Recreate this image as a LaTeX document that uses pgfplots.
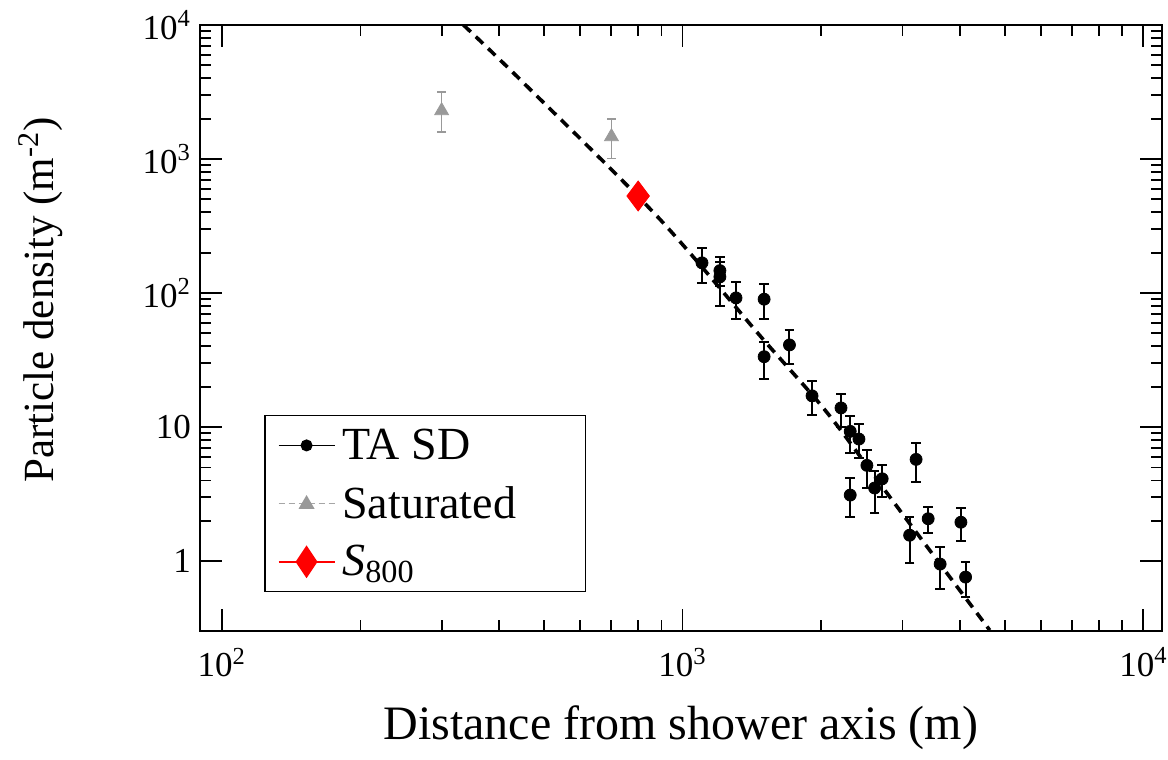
\documentclass[border=0pt]{standalone}
\usepackage{pgfplots}
\pgfplotsset{compat=1.18}
\usepackage{fontspec}
\setmainfont{Liberation Serif}
\pgfplotstableread{
x y ep em
1102 168 48 50
1205 147 40 35
1205 132 38 52
1306 92 28 28
1503 90 26 26
1503 33.5 9.5 10.7
1706 41 12 11.6
1910 17.1 4.9 4.8
2207 13.9 3.9 3.85
2311 9.29 2.81 2.86
2414 8.14 2.36 2.30
2311 3.11 1.03 0.99
2512 5.18 1.59 1.66
2611 3.51 1.21 1.24
2711 4.11 1.09 1.09
3212 5.74 1.90 1.87
3110 1.56 0.56 0.60
3412 2.07 0.47 0.46
3622 0.95 0.32 0.33
4018 1.95 0.55 0.53
4113 0.76 0.22 0.22
}\tasd
\pgfplotstableread{
x y ep em
300 2293 882 710
701 1467 520 455
}\sat
\begin{document}
\begin{tikzpicture}
\begin{axis}[
  at={(0,0)}, anchor=south west,
  scale only axis, width=480.9pt, height=302.9pt,
  xmode=log, ymode=log,
  xmin=89.7, xmax=10965, ymin=0.302, ymax=10000,
  axis line style={line width=0.9pt},
  every tick/.style={black, line width=0.9pt},
  major tick length=11pt, minor tick length=5.5pt,
  tick align=inside,
  xtick={100,1000,10000},
  xticklabels={10\textsuperscript{2},10\textsuperscript{3},10\textsuperscript{4}},
  ytick={1,10,100,1000,10000},
  yticklabels={1,10,10\textsuperscript{2},10\textsuperscript{3},10\textsuperscript{4}},
  ticklabel style={font=\fontsize{17.5}{20}\selectfont},
  xticklabel style={yshift=-5pt},
  yticklabel style={xshift=-1pt},
  xlabel={Distance from shower axis (m)},
  ylabel={Particle density (m\textsuperscript{-2})},
  xlabel style={font=\fontsize{24}{28}\selectfont, at={(axis description cs:0.5,-0.16)}, anchor=center},
  ylabel style={font=\fontsize{21.5}{26}\selectfont, at={(axis description cs:-0.166,0.546)}, anchor=center, rotate=0},
  legend style={at={(axis description cs:0.0665,0.3564)}, anchor=north west,
    draw=black, line width=0.8pt, font=\fontsize{23}{27}\selectfont,
    inner xsep=6.5pt, inner ysep=4.5pt, row sep=8pt, column sep=1.5pt, cells={anchor=west}},
  legend cell align=left,
]
\addplot[black, line width=1.8pt, dash pattern=on 5pt off 3.5pt, smooth, forget plot] coordinates {
(334.6,10000) (445.1,3890) (882.6,370.7) (1479,47.2) (2065,12.65) (2884,2.70) (4641,0.305)};

\addplot[black, only marks, mark=*, mark size=3pt,
  legend image code/.code={
    \draw[black, line width=0.8pt] (0pt,0pt) -- (28pt,0pt);
    \fill[black] (14pt,0pt) circle (2.6pt);},
  error bars/.cd, y dir=both, y explicit,
  error bar style={line width=1pt, black},
  error mark options={rotate=90, mark size=2.4pt, line width=1pt, black},
  ]
  table[x=x, y=y, y error plus=ep, y error minus=em] {\tasd};
\addlegendentry{\makebox[113pt][l]{TA SD}}
\addplot[gray!80, only marks, mark=triangle*, mark size=4pt,
  legend image code/.code={
    \draw[gray!70, line width=0.7pt, dash pattern=on 3pt off 2pt] (0pt,0pt) -- (28pt,0pt);
    \fill[gray!80] (14pt,3.5pt) -- (17.3pt,-2.2pt) -- (10.7pt,-2.2pt) -- cycle;},
  error bars/.cd, y dir=both, y explicit,
  error bar style={line width=0.8pt, gray!80},
  error mark options={rotate=90, mark size=2.2pt, line width=0.8pt, gray!80},
  ]
  table[x=x, y=y, y error plus=ep, y error minus=em] {\sat};
\addlegendentry{\makebox[113pt][l]{Saturated}}
\addplot[red, only marks, mark=diamond*, mark size=7.5pt,
  legend image code/.code={
    \draw[red, line width=0.8pt] (0pt,0pt) -- (28pt,0pt);
    \fill[red] (14pt,7.5pt) -- (19pt,0pt) -- (14pt,-7.5pt) -- (9pt,0pt) -- cycle;},
  ] coordinates {(801,530)};
\addlegendentry{\makebox[113pt][l]{\textit{S}\textsubscript{800}}}
\end{axis}
\pgfresetboundingbox
\path[use as bounding box] (-100pt,-64.6pt) rectangle (484pt,315.4pt);
\end{tikzpicture}
\end{document}
